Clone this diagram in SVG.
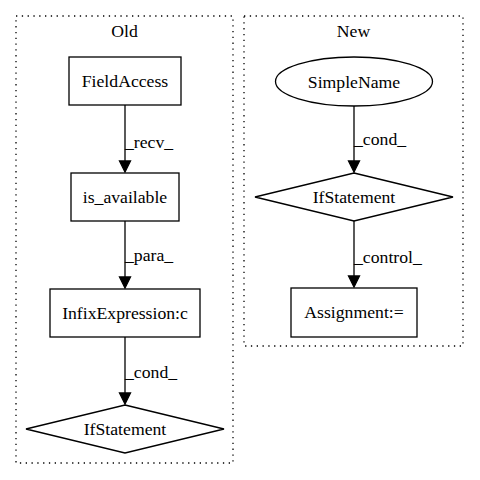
<svg xmlns="http://www.w3.org/2000/svg" width="480" height="480" viewBox="0 0 480 480">
<defs>
<style>
text{font-family:"Liberation Serif","Times New Roman",serif;font-size:17.7px;fill:#000}
.c{text-anchor:middle}
.cl{fill:none;stroke:#000;stroke-width:1.3;stroke-dasharray:1.3,4.5}
.n{fill:#fff;stroke:#000;stroke-width:1.3}
.e{fill:none;stroke:#000;stroke-width:1.3}
.ah{fill:#000;stroke:#000;stroke-width:1.3}
</style>
</defs>
<rect width="480" height="480" fill="#fff"/>
<g id="cluster_old">
<rect class="cl" x="16" y="16" width="217" height="447"/>
<text class="c" x="124.5" y="37">Old</text>
</g>
<g id="cluster_new">
<rect class="cl" x="244" y="16" width="219" height="330"/>
<text class="c" x="353.5" y="37">New</text>
</g>
<g id="edges">
<line class="e" x1="125" y1="105" x2="125" y2="161"/>
<polygon class="ah" points="119.5,161 130.5,161 125,172"/>
<text x="125" y="148">_recv_</text>
<line class="e" x1="125" y1="221" x2="125" y2="277"/>
<polygon class="ah" points="119.5,277 130.5,277 125,288"/>
<text x="125" y="261">_para_</text>
<line class="e" x1="125" y1="337" x2="125" y2="393"/>
<polygon class="ah" points="119.5,393 130.5,393 125,404"/>
<text x="125" y="378">_cond_</text>
<line class="e" x1="354" y1="106" x2="354" y2="161"/>
<polygon class="ah" points="348.5,161 359.5,161 354,172"/>
<text x="354" y="145">_cond_</text>
<line class="e" x1="354" y1="221" x2="354" y2="276"/>
<polygon class="ah" points="348.5,276 359.5,276 354,287"/>
<text x="354" y="263">_control_</text>
</g>
<g id="FieldAccess">
<rect class="n" x="69" y="57" width="112" height="48"/>
<text class="c" x="125" y="87">FieldAccess</text>
</g>
<g id="is_available">
<rect class="n" x="71" y="173" width="108" height="48"/>
<text class="c" x="125" y="203">is_available</text>
</g>
<g id="InfixExpression">
<rect class="n" x="50" y="289" width="150" height="48"/>
<text class="c" x="125" y="319">InfixExpression:c</text>
</g>
<g id="IfStatement_old">
<polygon class="n" points="125,405 224,429 125,453 26,429"/>
<text class="c" x="125" y="435">IfStatement</text>
</g>
<g id="SimpleName">
<ellipse class="n" cx="354" cy="81.5" rx="78.5" ry="24.5"/>
<text class="c" x="354" y="87.5">SimpleName</text>
</g>
<g id="IfStatement_new">
<polygon class="n" points="354,173 453,197 354,221 255,197"/>
<text class="c" x="354" y="203">IfStatement</text>
</g>
<g id="Assignment">
<rect class="n" x="291" y="288" width="126" height="49"/>
<text class="c" x="354" y="318">Assignment:=</text>
</g>
</svg>
